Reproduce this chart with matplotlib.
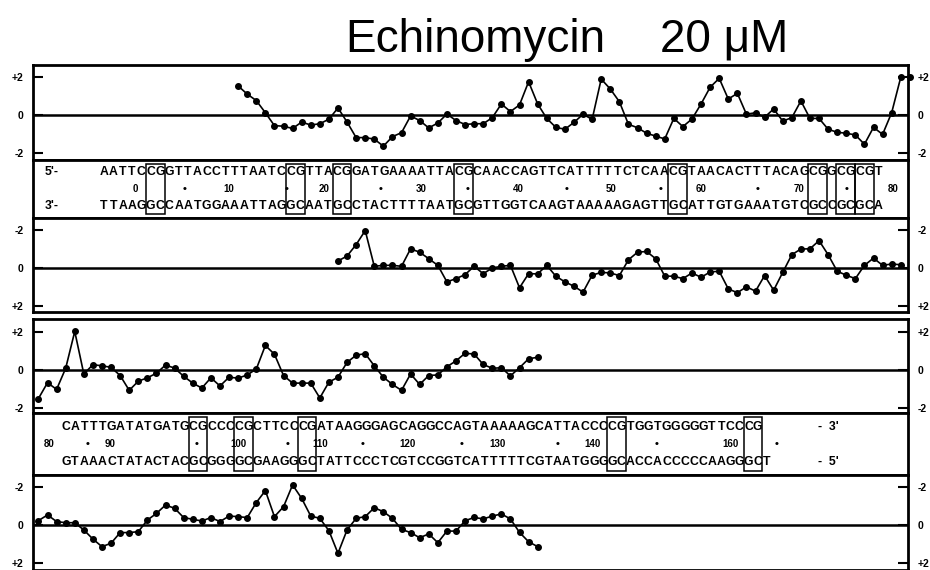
import matplotlib
matplotlib.use('Agg')
import matplotlib.pyplot as plt
import numpy as np
from matplotlib.patches import Rectangle

plt.rcParams['font.family'] = ['Liberation Sans', 'DejaVu Sans']
plt.rcParams['font.weight'] = 'bold'

# footprinting profiles, one value per band
upper_top = [1.53, 1.10, 0.76, 0.12, -0.56, -0.59, -0.71, -0.37, -0.53, -0.46, -0.22, 0.37,
             -0.37, -1.19, -1.19, -1.27, -1.64, -1.14, -0.93, -0.05, -0.29, -0.68, -0.42, 0.05,
             -0.29, -0.50, -0.46, -0.46, -0.14, 0.58, 0.18, 0.53, 1.75, 0.58, -0.18, -0.65,
             -0.75, -0.39, 0.04, -0.23, 1.89, 1.37, 0.70, -0.49, -0.67, -0.96, -1.11, -1.26,
             -0.18, -0.61, -0.21, 0.58, 1.46, 1.93, 0.84, 1.14, 0.04, 0.12, -0.12, 0.32,
             -0.32, -0.14, 0.74, -0.18, -0.18, -0.75, -0.91, -0.96, -1.05, -1.54, -0.65, -1.02,
             0.12, 1.98, 2.00]
upper_bottom = [-0.37, -0.63, -1.23, -1.97, -0.09, -0.14, -0.14, -0.09, -1.01, -0.83, -0.49,
                -0.14, 0.73, 0.56, 0.35, -0.09, 0.30, 0.00, -0.09, -0.14, 1.04, 0.30, 0.31,
                -0.14, 0.43, 0.73, 0.96, 1.27, 0.38, 0.23, 0.26, 0.40, -0.43, -0.83, -0.87,
                -0.49, 0.43, 0.43, 0.56, 0.26, 0.49, 0.21, 0.17, 1.10, 1.30, 0.99, 1.22, 0.40,
                1.17, 0.23, -0.70, -1.00, -1.01, -1.44, -0.70, 0.17, 0.38, 0.56, -0.14, -0.52,
                -0.14, -0.21, -0.17]
lower_top = [-1.50, -0.67, -1.02, 0.09, 2.03, -0.21, 0.28, 0.22, 0.14, -0.29, -1.07, -0.59,
             -0.41, -0.17, 0.26, 0.10, -0.33, -0.69, -0.95, -0.41, -0.84, -0.38, -0.43, -0.26,
             0.05, 1.29, 0.83, -0.29, -0.69, -0.69, -0.69, -1.47, -0.64, -0.38, 0.40, 0.78,
             0.86, 0.22, -0.38, -0.76, -1.07, -0.21, -0.76, -0.29, -0.26, 0.17, 0.48, 0.88,
             0.84, 0.29, 0.09, 0.12, -0.31, 0.12, 0.59, 0.67]
lower_bottom = [-0.23, -0.53, -0.18, -0.12, -0.12, 0.26, 0.74, 1.14, 0.96, 0.40, 0.40, 0.35,
                -0.26, -0.61, -1.05, -0.88, -0.39, -0.30, -0.21, -0.39, -0.18, -0.47, -0.44,
                -0.39, -1.18, -1.81, -0.44, -0.96, -2.11, -1.40, -0.47, -0.35, 0.30, 1.49, 0.26,
                -0.35, -0.44, -0.91, -0.70, -0.35, 0.23, 0.40, 0.67, 0.47, 0.93, 0.32, 0.32,
                -0.22, -0.40, -0.32, -0.47, -0.58, -0.32, 0.39, 0.88, 1.14]
# band where each profile starts
starts = [22, 33, 0, 0]

tick_vals = [-2, 0, 2]
tick_labels = ['-2', '0', '+2']

# sequence rows
seq1_top = 'AATTCCGGTTACCTTTAATCCGTTACGGATGAAAATTACGCAACCAGTTCATTTTTCTCAACGTAACACTTTACAGCGGCGCGT'
seq1_bot = 'TTAAGGCCAATGGAAATTAGGCAATGCCTACTTTTAATGCGTTGGTCAAGTAAAAAGAGTTGCATTGTGAAATGTCGCCGCGCA'
seq2_top = 'CATTTGATATGATGCGCCCCGCTTCCCGATAAGGGAGCAGGCCAGTAAAAAGCATTACCCCGTGGTGGGGGTTCCCG'
seq2_bot = 'GTAAACTATACTACGCGGGGCGAAGGGCTATTCCCTCGTCCGGTCATTTTTCGTAATGGGGCACCACCCCCAAGGGCT'
# boxed CpG steps (index of first base)
boxes1 = [5, 20, 25, 38, 61, 76, 79, 81]
boxes2 = [14, 19, 26, 60, 75]
# numbering: label text and position in base units along the row
num1_labels = ['0', '10', '20', '30', '40', '50', '60', '70', '80']
num1_pos = [3.4, 13.4, 23.6, 34.0, 44.4, 54.4, 64.0, 74.5, 84.6]
dot1_pos = [8.6, 19.6, 29.6, 39.0, 49.6, 59.6, 70.0, 79.6]
num2_labels = ['80', '90', '100', '110', '120', '130', '140', '160']
num2_pos = [-1.8, 4.8, 18.9, 27.9, 37.5, 47.4, 57.9, 73.0]
dot2_pos = [2.4, 14.4, 24.3, 32.6, 43.5, 54.0, 64.9, 78.1]

W, H = 930, 570
fig = plt.figure(figsize=(W / 100, H / 100), dpi=100)
LEFT, RIGHT = 33, 908
UNIT = 19.0
XLIM = (-0.6, 95.8)


def px_axes(top, bottom):
    return fig.add_axes([LEFT / W, 1 - bottom / H, (RIGHT - LEFT) / W, (bottom - top) / H])


def frame(ax):
    ax.set_xticks([])
    for s in ax.spines.values():
        s.set_linewidth(2)


def profile_panel(top, bottom, zero, vals, start, flipped):
    ax = px_axes(top, bottom)
    x = start + np.arange(len(vals))
    ax.plot(x, vals, '-o', color='k', lw=1.2, ms=4, clip_on=False, zorder=3)
    ax.axhline(0, color='k', lw=1.8)
    hi = (zero - top) / UNIT
    lo = (bottom - zero) / UNIT
    if flipped:
        ax.set_ylim(lo, -hi)
    else:
        ax.set_ylim(-lo, hi)
    ax.set_xlim(*XLIM)
    ax.set_yticks(tick_vals, tick_labels)
    ax.tick_params(axis='y', direction='in', length=7, width=1.5, left=True, right=True,
                   labelleft=True, labelright=True, labelsize=7.5, pad=7)
    frame(ax)
    return ax


def seq_panel(top, bottom, top_seq, bot_seq, x0, dx, rows_y, boxes, labels, lab_pos, dots,
              left_tags, right_tags):
    ax = px_axes(top, bottom)
    h = bottom - top
    ax.set_xlim(0, RIGHT - LEFT)
    ax.set_ylim(h, 0)
    ax.set_yticks([])
    frame(ax)
    xs = lambda i: x0 - LEFT + i * dx
    for seq, y in ((top_seq, rows_y[0]), (bot_seq, rows_y[2])):
        for i, ch in enumerate(seq):
            ax.text(xs(i), y, ch, ha='center', va='center', fontsize=8.8)
    for lab, p in zip(labels, lab_pos):
        ax.text(xs(p), rows_y[1], lab, ha='center', va='center', fontsize=7)
    for p in dots:
        ax.text(xs(p), rows_y[1], '\u2022', ha='center', va='center', fontsize=8)
    for b in boxes:
        ax.add_patch(Rectangle((xs(b - 0.5), 4), 2 * dx, h - 8, fill=False, lw=1.1, ec='k'))
    for tag, xx, y in left_tags + right_tags:
        ax.text(xx - LEFT, y, tag, ha='left', va='center', fontsize=8.8)
    return ax


profile_panel(65, 160, 115, upper_top, starts[0], False)
seq_panel(160, 218, seq1_top, seq1_bot, 104, 9.33, (12, 29, 46), boxes1,
          num1_labels, num1_pos, dot1_pos,
          [("5'-", 45, 12), ("3'-", 45, 46)], [])
profile_panel(218, 312, 268, upper_bottom, starts[1], True)
profile_panel(319, 413, 370, lower_top, starts[2], False)
seq_panel(413, 475, seq2_top, seq2_bot, 66, 9.1, (14, 31, 49), boxes2,
          num2_labels, num2_pos, dot2_pos,
          [], [("-  3'", 818, 14), ("-  5'", 818, 49)])
profile_panel(475, 570, 525, lower_bottom, starts[3], True)

fig.text(345 / W, 1 - 40 / H, 'Echinomycin', fontsize=33, fontweight='normal', va='center')
fig.text(660 / W, 1 - 40 / H, '20 \u03bcM', fontsize=33, fontweight='normal', va='center')

fig.savefig('out.png', dpi=100)
